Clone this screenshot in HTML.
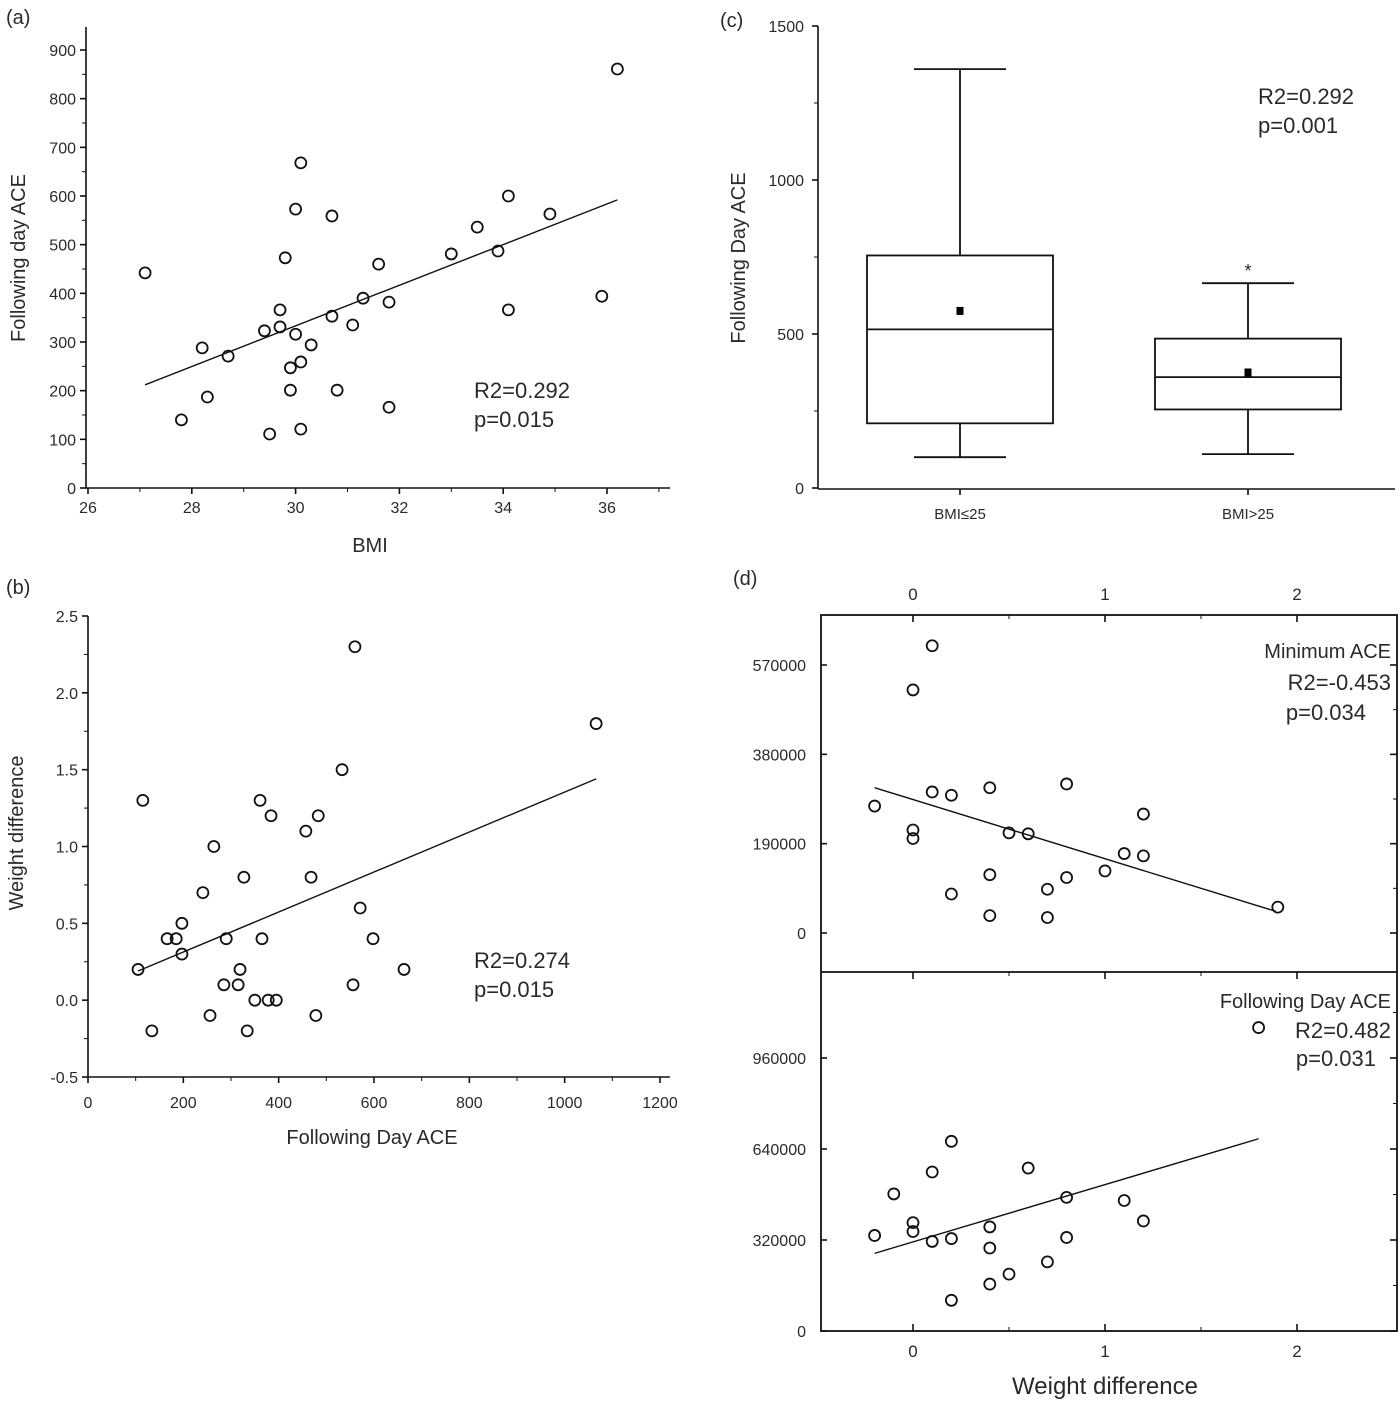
<!DOCTYPE html>
<html><head><meta charset="utf-8">
<style>
html,body{margin:0;padding:0;background:#fff;}
svg{display:block;font-family:"Liberation Sans",Arial,sans-serif;}
</style></head>
<body>
<svg id="fig" width="1400" height="1401" viewBox="0 0 1400 1401" xmlns="http://www.w3.org/2000/svg"></svg>
<script>
// ---------- Panel (a) data ----------
const aBMI = [27.1,27.8,28.2,28.3,28.7,29.4,29.5,29.7,29.7,29.8,29.9,29.9,30.0,30.0,30.1,30.1,30.1,30.3,30.7,30.7,30.8,31.1,31.3,31.6,31.8,31.8,33.0,33.5,33.9,34.1,34.1,34.9,35.9,36.2];
const aACE = [442,140,288,187,271,323,111,366,331,473,201,247,316,573,668,259,121,294,353,559,201,335,390,460,382,166,481,536,487,600,366,563,394,861];
const aFitX = [27.1,36.2];
const aFitY = [212,592];
const aXTicks = [26,28,30,32,34,36];
const aYTicks = [0,100,200,300,400,500,600,700,800,900];
// ---------- Panel (b) data ----------
const bACE = [105,115,134,166,185,197,197,241,256,264,285,290,315,319,327,334,350,361,365,378,384,395,457,468,478,483,533,556,560,571,598,663,1066];
const bWD = [0.2,1.3,-0.2,0.4,0.4,0.3,0.5,0.7,-0.1,1.0,0.1,0.4,0.1,0.2,0.8,-0.2,0.0,1.3,0.4,0.0,1.2,0.0,1.1,0.8,-0.1,1.2,1.5,0.1,2.3,0.6,0.4,0.2,1.8];
const bFitX = [105,1066];
const bFitY = [0.19,1.44];
const bXTicks = [0,200,400,600,800,1000,1200];
const bYTicks = [-0.5,0.0,0.5,1.0,1.5,2.0,2.5];
// ---------- Panel (c) data ----------
const cCats = ["BMI≤25","BMI>25"];
const cMin = [100,110];
const cQ1 = [210,255];
const cMed = [515,360];
const cQ3 = [755,485];
const cMax = [1360,665];
const cMean = [575,375];
const cOutlier = [null,720];
const cYTicks = [0,500,1000,1500];
// ---------- Panel (d) data ----------
const dTopX = [-0.2,0.0,0.0,0.0,0.1,0.1,0.2,0.2,0.4,0.4,0.4,0.5,0.6,0.7,0.7,0.8,0.8,1.0,1.1,1.2,1.2,1.9];
const dTopY = [270000,517000,219000,201000,611000,300000,293000,83000,309000,124000,37000,213000,211000,93000,33000,317000,118000,132000,169000,253000,164000,55000];
const dTopFitX = [-0.2,1.89];
const dTopFitY = [309000,46000];
const dBotX = [-0.2,-0.1,0.0,0.0,0.1,0.1,0.2,0.2,0.2,0.4,0.4,0.4,0.5,0.6,0.7,0.8,0.8,1.1,1.2,1.8];
const dBotY = [336000,482000,381000,350000,559000,315000,667000,325000,108000,366000,292000,165000,200000,573000,243000,470000,329000,459000,387000,1067000];
const dBotFitX = [-0.2,1.8];
const dBotFitY = [273000,676000];
const dXTicks = [0,1,2];
const dTopYTicks = [0,190000,380000,570000];
const dBotYTicks = [0,320000,640000,960000];

const NS = "http://www.w3.org/2000/svg";
const svg = document.getElementById('fig');
function mk(tag, attrs, parent){
  const e = document.createElementNS(NS, tag);
  for (const k in attrs) e.setAttribute(k, attrs[k]);
  (parent||svg).appendChild(e);
  return e;
}
function txt(s, x, y, size, anchor, parent, extra){
  const t = mk('text', Object.assign({x:x, y:y, 'font-size':size, 'text-anchor':anchor||'middle', fill:'#2a2a2a'}, extra||{}), parent);
  t.textContent = s;
  return t;
}
function lin(d0,d1,r0,r1){ return v => r0 + (v-d0)/(d1-d0)*(r1-r0); }
function line(x1,y1,x2,y2,parent,w){ return mk('line',{x1:x1,y1:y1,x2:x2,y2:y2,stroke:'#111','stroke-width':w||1.6},parent); }
function circ(cx,cy,parent){ return mk('circle',{cx:cx,cy:cy,r:5.5,fill:'none',stroke:'#111','stroke-width':1.8},parent); }

// ================= Panel (a) =================
{
  const g = mk('g',{});
  
  
  const X = lin(26,36,88,607), Y = lin(0,900,488,50);
  line(86,27,86,488,g); line(86,488,670,488,g);
  aYTicks.forEach(v=>{ line(80,Y(v),86,Y(v),g); const t=txt(String(v),76,Y(v)+6,16,'end',g);   });
  for(let v=50; v<950; v+=100) line(82,Y(v),86,Y(v),g,1);
  aXTicks.forEach(v=>{ line(X(v),488,X(v),494,g); const t=txt(String(v),X(v),513,16,'middle',g);   });
  for(let v=27; v<=37; v+=2) line(X(v),488,X(v),492,g,1);
  aBMI.forEach((b,i)=>{ const c=circ(X(b),Y(aACE[i]),g);   });
  const f = line(X(aFitX[0]),Y(aFitY[0]),X(aFitX[1]),Y(aFitY[1]),g,1.4);
   
  const pl=txt('(a)',6,24,20,'start',g);  
  const yt=txt('Following day ACE',0,0,20,'middle',g,{transform:'translate(25,258) rotate(-90)'});  
  const xt=txt('BMI',370,552,20,'middle',g);  
  const s1=txt('R2=0.292',474,398,22,'start',g);  
  const s2=txt('p=0.015',474,427,22,'start',g);  
}

// ================= Panel (b) =================
{
  const g = mk('g',{});
  
  
  const X = lin(0,1200,88,660), Y = lin(-0.5,2.5,1077,616);
  line(88,616,88,1077,g); line(88,1077,670,1077,g);
  bYTicks.forEach(v=>{ line(82,Y(v),88,Y(v),g); const t=txt(v.toFixed(1),78,Y(v)+6,16,'end',g);   });
  for(let v=-0.25; v<2.5; v+=0.5) line(84,Y(v),88,Y(v),g,1);
  bXTicks.forEach(v=>{ line(X(v),1077,X(v),1083,g); const t=txt(String(v),X(v),1108,16,'middle',g);   });
  for(let v=100; v<1250; v+=200) line(X(v),1077,X(v),1081,g,1);
  bACE.forEach((a,i)=>{ const c=circ(X(a),Y(bWD[i]),g);   });
  const f = line(X(bFitX[0]),Y(bFitY[0]),X(bFitX[1]),Y(bFitY[1]),g,1.4);
   
  const pl=txt('(b)',6,594,20,'start',g);  
  const yt=txt('Weight difference',0,0,20,'middle',g,{transform:'translate(23,833) rotate(-90)'});  
  const xt=txt('Following Day ACE',372,1144,20,'middle',g);  
  const s1=txt('R2=0.274',474,968,22,'start',g);  
  const s2=txt('p=0.015',474,997,22,'start',g);  
}

// ================= Panel (c) =================
{
  const g = mk('g',{});
  
  
  const Y = lin(0,1500,488,26);
  const centers = [960,1248], halfW = [93,93], capW = [46,46];
  line(818,26,818,489,g); line(818,489,1395,489,g);
  cYTicks.forEach(v=>{ line(812,Y(v),818,Y(v),g); const t=txt(String(v),804,Y(v)+6,16,'end',g);   });
  for(let v=250; v<1500; v+=500) line(814,Y(v),818,Y(v),g,1);
  cCats.forEach((c,i)=>{
    const cx = centers[i];
    line(cx,489,cx,495,g);
    const t=txt(c,cx,519,15,'middle',g);  
    const bx = mk('rect',{x:cx-halfW[i],y:Y(cQ3[i]),width:2*halfW[i],height:Y(cQ1[i])-Y(cQ3[i]),fill:'none',stroke:'#111','stroke-width':1.8},g);
     
    line(cx-halfW[i],Y(cMed[i]),cx+halfW[i],Y(cMed[i]),g,1.8);
    line(cx,Y(cQ3[i]),cx,Y(cMax[i]),g,1.8); line(cx-capW[i],Y(cMax[i]),cx+capW[i],Y(cMax[i]),g,1.8);
    line(cx,Y(cQ1[i]),cx,Y(cMin[i]),g,1.8); line(cx-capW[i],Y(cMin[i]),cx+capW[i],Y(cMin[i]),g,1.8);
    const m = mk('rect',{x:cx-3.5,y:Y(cMean[i])-4,width:7,height:8,fill:'#000'},g);
     
    if(cOutlier[i]!==null){ const s=txt('*',cx,Y(cOutlier[i])+11,18,'middle',g);   }
  });
  const pl=txt('(c)',720,27,20,'start',g);  
  const yt=txt('Following Day ACE',0,0,20,'middle',g,{transform:'translate(745,258) rotate(-90)'});  
  const s1=txt('R2=0.292',1258,104,22,'start',g);  
  const s2=txt('p=0.001',1258,133,22,'start',g);  
}

// ================= Panel (d) =================
{
  const g = mk('g',{});
  
  
  const X = lin(0,1,913,1105);
  const YT = lin(0,570000,933,665);
  const YB = lin(0,960000,1331,1058);
  const L=821,R=1397,T=615,M=972,B=1331;
  mk('rect',{x:L,y:T,width:R-L,height:B-T,fill:'none',stroke:'#111','stroke-width':1.8},g);
  line(L,M,R,M,g,1.8);
  dXTicks.forEach(v=>{
    line(X(v),T,X(v),T+7,g); line(X(v),M,X(v),M+7,g); line(X(v),B,X(v),B-7,g);
    const t1=txt(String(v),X(v),600,17,'middle',g);  
    const t2=txt(String(v),X(v),1357,17,'middle',g);  
  });
  [0.5,1.5].forEach(v=>{ line(X(v),T,X(v),T+4,g,1); line(X(v),M,X(v),M+4,g,1); line(X(v),B,X(v),B-4,g,1); });
  dTopYTicks.forEach(v=>{ line(L,YT(v),L+6,YT(v),g); line(R,YT(v),R-7,YT(v),g); const t=txt(String(v),806,YT(v)+6,16,'end',g);   });
  [95000,285000,475000].forEach(v=>{ line(R,YT(v),R-4,YT(v),g,1); });
  dBotYTicks.forEach(v=>{ line(L,YB(v),L+6,YB(v),g); line(R,YB(v),R-7,YB(v),g); const t=txt(String(v),806,YB(v)+6,16,'end',g);   });
  [160000,480000,800000,1120000].forEach(v=>{ line(R,YB(v),R-4,YB(v),g,1); });
  dTopX.forEach((x,i)=>{ const c=circ(X(x),YT(dTopY[i]),g);   });
  dBotX.forEach((x,i)=>{ const c=circ(X(x),YB(dBotY[i]),g);   });
  const f1 = line(X(dTopFitX[0]),YT(dTopFitY[0]),X(dTopFitX[1]),YT(dTopFitY[1]),g,1.4);
   
  const f2 = line(X(dBotFitX[0]),YB(dBotFitY[0]),X(dBotFitX[1]),YB(dBotFitY[1]),g,1.4);
   
  const pl=txt('(d)',733,585,20,'start',g);  
  const xt=txt('Weight difference',1105,1394,24,'middle',g);  
  const a1=txt('Minimum ACE',1391,658,20,'end',g);  
  const a2=txt('R2=-0.453',1391,690,22,'end',g);  
  const a3=txt('p=0.034',1366,720,22,'end',g);  
  const b1=txt('Following Day ACE',1391,1008,20,'end',g);  
  const b2=txt('R2=0.482',1391,1038,22,'end',g);  
  const b3=txt('p=0.031',1376,1066,22,'end',g);  
}
</script>
</body></html>
